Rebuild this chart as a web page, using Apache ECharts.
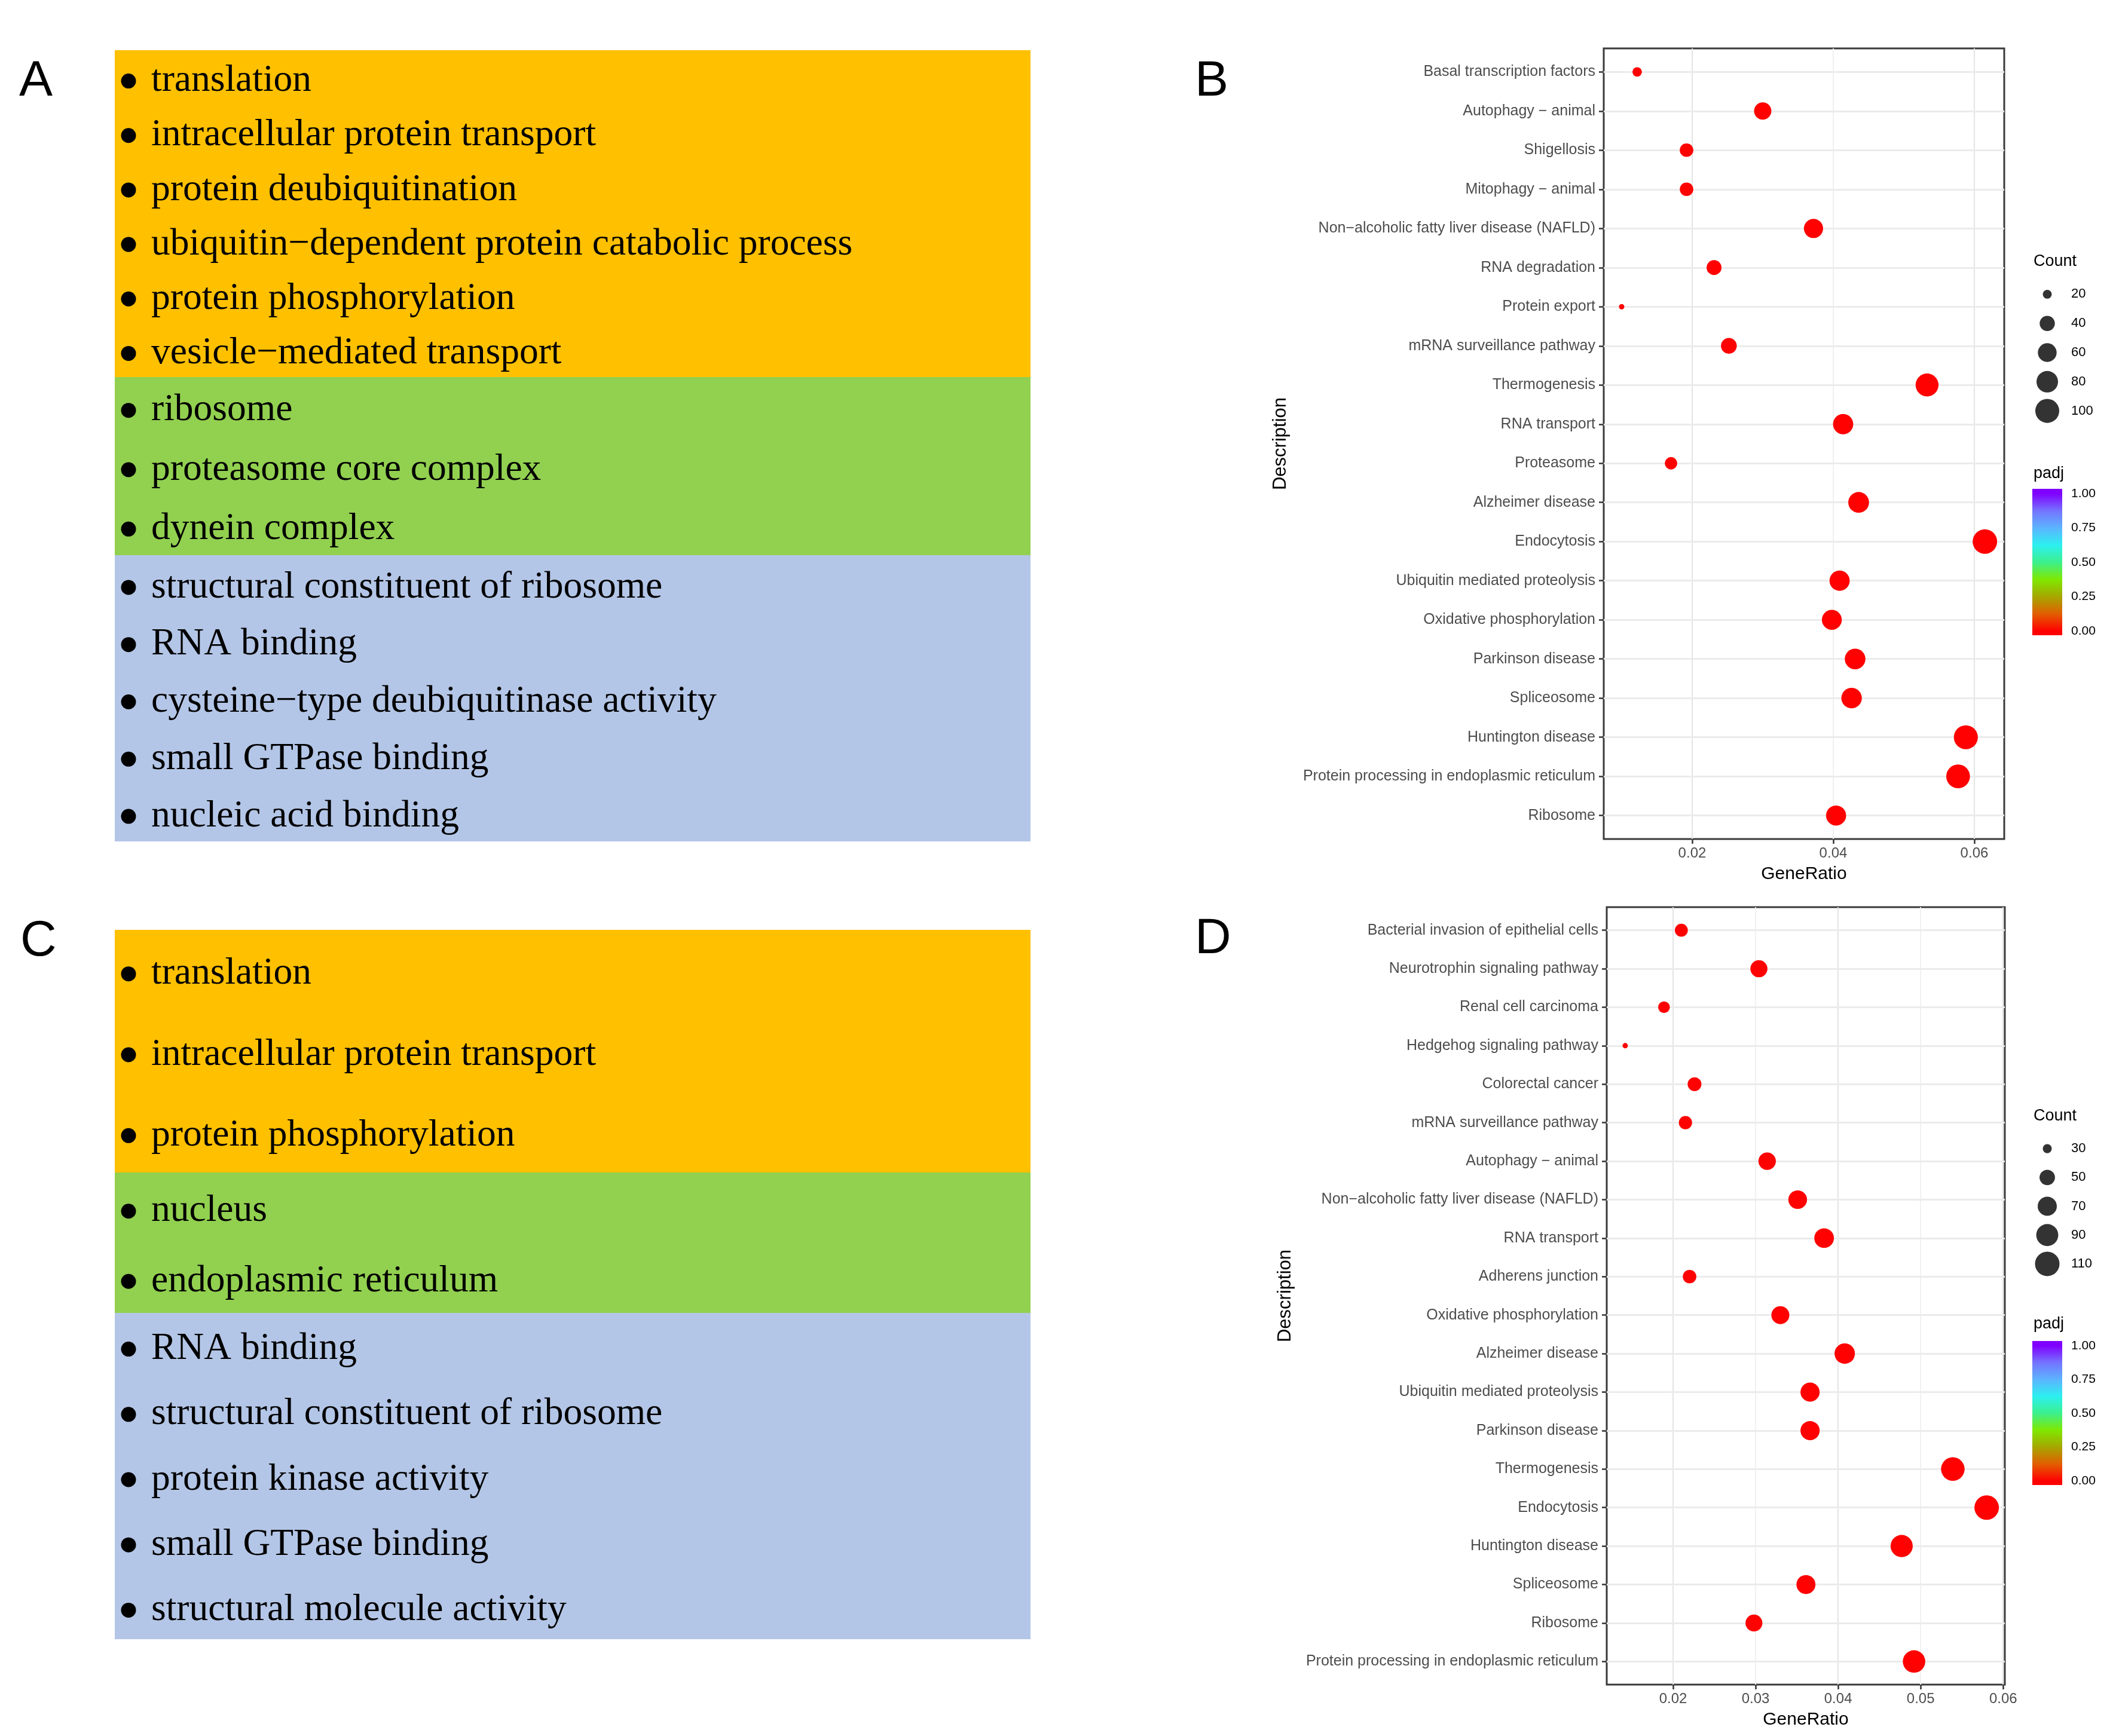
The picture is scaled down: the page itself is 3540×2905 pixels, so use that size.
<!DOCTYPE html>
<html><head><meta charset="utf-8">
<script src="https://cdn.jsdelivr.net/npm/echarts@6/dist/echarts.min.js"></script>
<style>html,body{margin:0;padding:0;background:#fff}#c{width:3540px;height:2905px}</style>
</head><body><div id="c"></div>
<script>
// ---------- data ----------
const goA_BP = ['translation','intracellular protein transport','protein deubiquitination','ubiquitin\u2212dependent protein catabolic process','protein phosphorylation','vesicle\u2212mediated transport'];
const goA_CC = ['ribosome','proteasome core complex','dynein complex'];
const goA_MF = ['structural constituent of ribosome','RNA binding','cysteine\u2212type deubiquitinase activity','small GTPase binding','nucleic acid binding'];
const goC_BP = ['translation','intracellular protein transport','protein phosphorylation'];
const goC_CC = ['nucleus','endoplasmic reticulum'];
const goC_MF = ['RNA binding','structural constituent of ribosome','protein kinase activity','small GTPase binding','structural molecule activity'];

const pathwaysB = ['Basal transcription factors','Autophagy \u2212 animal','Shigellosis','Mitophagy \u2212 animal','Non\u2212alcoholic fatty liver disease (NAFLD)','RNA degradation','Protein export','mRNA surveillance pathway','Thermogenesis','RNA transport','Proteasome','Alzheimer disease','Endocytosis','Ubiquitin mediated proteolysis','Oxidative phosphorylation','Parkinson disease','Spliceosome','Huntington disease','Protein processing in endoplasmic reticulum','Ribosome'];
const ratioB = [0.0122,0.0300,0.0192,0.0192,0.0372,0.0231,0.0100,0.0252,0.0533,0.0414,0.0170,0.0436,0.0615,0.0409,0.0398,0.0431,0.0426,0.0588,0.0577,0.0404];
const countB = [21,51,33,33,63,39,17,43,91,70,29,74,105,70,68,73,72,100,98,69];
const padjB = [0.001,0.001,0.001,0.001,0.001,0.001,0.001,0.001,0.001,0.001,0.001,0.001,0.001,0.001,0.001,0.001,0.001,0.001,0.001,0.001];

const pathwaysD = ['Bacterial invasion of epithelial cells','Neurotrophin signaling pathway','Renal cell carcinoma','Hedgehog signaling pathway','Colorectal cancer','mRNA surveillance pathway','Autophagy \u2212 animal','Non\u2212alcoholic fatty liver disease (NAFLD)','RNA transport','Adherens junction','Oxidative phosphorylation','Alzheimer disease','Ubiquitin mediated proteolysis','Parkinson disease','Thermogenesis','Endocytosis','Huntington disease','Spliceosome','Ribosome','Protein processing in endoplasmic reticulum'];
const ratioD = [0.0210,0.0304,0.0189,0.0142,0.0226,0.0215,0.0314,0.0351,0.0383,0.0220,0.0330,0.0408,0.0366,0.0366,0.0539,0.0580,0.0477,0.0361,0.0298,0.0492];
const countD = [40,58,36,27,43,41,60,67,73,42,63,78,70,70,102,110,91,69,57,93];
const padjD = [0.001,0.001,0.001,0.001,0.001,0.001,0.001,0.001,0.001,0.001,0.001,0.001,0.001,0.001,0.001,0.001,0.001,0.001,0.001,0.001];

const countBreaksB = [20,40,60,80,100];
const countBreaksD = [30,50,70,90,110];
const padjTicks = [0,0.25,0.5,0.75,1];
const xTicksB = [0.02,0.04,0.06];
const xTicksD = [0.02,0.03,0.04,0.05,0.06];

// ---------- styles ----------
const SANS = '"Liberation Sans", Arial, sans-serif';
const SERIF = '"Liberation Serif", "Times New Roman", serif';
const padjColors = ['#FF0000','#E25E00','#A6A600','#7FE800','#3CF08C','#2CF0F0','#5CB4FF','#7474FF','#8000FF'];
const CB_MIN = -0.03, CB_MAX = 1.035;

function makeSizer(arr){
  const mn = Math.min(...arr), mx = Math.max(...arr);
  return c => 9 + 32*Math.sqrt(Math.max(0, c - mn)/(mx - mn));
}
const sizeB = makeSizer(countB), sizeD = makeSizer(countD);

const chart = echarts.init(document.getElementById('c'), null, {renderer:'canvas'});

function plotAxes(gridIndex, min, max, ticks, cats, nameGap){
  const idx = cats.map((_, i) => i);
  const x = {
    type:'value', gridIndex, min, max, splitNumber: ticks.length > 3 ? 10 : 5,
    axisLine:{show:false, onZero:false},
    axisTick:{show:true, customValues: ticks, length:8, lineStyle:{color:'#333', width:2.5}},
    axisLabel:{customValues: ticks, formatter: v => Number(v).toFixed(2), fontSize:24, color:'#4d4d4d', fontFamily:SANS, margin:12},
    splitLine:{show:true, lineStyle:{color:['#e4e4e4','#f1f1f1'], width:2}},
    name:'GeneRatio', nameLocation:'middle', nameGap:44,
    nameTextStyle:{fontSize:30, color:'#000', fontFamily:SANS}
  };
  const y = {
    type:'value', gridIndex, min:-0.6, max:cats.length - 0.4, inverse:true,
    axisLine:{show:false, onZero:false},
    axisTick:{show:true, customValues: idx, length:8, lineStyle:{color:'#333', width:2.5}},
    axisLabel:{customValues: idx, formatter: v => cats[Math.round(v)], fontSize:25, color:'#4d4d4d', fontFamily:SANS, margin:14},
    splitLine:{show:false},
    name:'Description', nameLocation:'middle', nameGap, nameRotate:90,
    nameTextStyle:{fontSize:31, color:'#000', fontFamily:SANS}
  };
  return [x, y];
}

const [xB, yB] = plotAxes(0, 0.00746, 0.06424, xTicksB, pathwaysB, 525);
const [xD, yD] = plotAxes(1, 0.01196, 0.0602, xTicksD, pathwaysD, 522);

function legendAxes(gridIndex, breaks){
  return [
    {type:'value', gridIndex, min:0, max:1, show:false},
    {type:'category', gridIndex, data: breaks.map(String), inverse:true, position:'right',
     axisLine:{show:false}, axisTick:{show:false}, splitLine:{show:false},
     axisLabel:{fontSize:22, color:'#000', fontFamily:SANS, margin:15}}
  ];
}
function colorbarAxes(gridIndex){
  return [
    {type:'value', gridIndex, min:0, max:1, show:false},
    {type:'value', gridIndex, min:CB_MIN, max:CB_MAX, position:'right',
     axisLine:{show:false, onZero:false}, splitLine:{show:false},
     axisTick:{show:true, inside:true, customValues: padjTicks, length:9, lineStyle:{color:'#fff', width:2}},
     axisLabel:{customValues: padjTicks, formatter: v => Number(v).toFixed(2), fontSize:21, color:'#000', fontFamily:SANS, margin:15}},
    {type:'value', gridIndex, min:CB_MIN, max:CB_MAX, position:'left',
     axisLine:{show:false, onZero:false}, splitLine:{show:false},
     axisTick:{show:true, inside:true, customValues: padjTicks, length:9, lineStyle:{color:'#fff', width:2}},
     axisLabel:{show:false}}
  ];
}
const [lxB, lyB] = legendAxes(2, countBreaksB);
const [cxB, cyB, cyB2] = colorbarAxes(3);
const [lxD, lyD] = legendAxes(4, countBreaksD);
const [cxD, cyD, cyD2] = colorbarAxes(5);

const gradStops = padjColors.map((c, i) => {
  const v = i/(padjColors.length - 1);
  return {offset:(CB_MAX - v)/(CB_MAX - CB_MIN), color:c};
}).reverse();
gradStops.unshift({offset:0, color:padjColors[padjColors.length-1]});
gradStops.push({offset:1, color:padjColors[0]});

function dotSeries(xi, yi, cats, ratio, padj, count, sizer){
  return {
    type:'scatter', xAxisIndex:xi, yAxisIndex:yi, z:3,
    data: cats.map((_, i) => [ratio[i], i, padj[i], count[i]]),
    symbol:'circle', symbolSize: v => sizer(v[3]),
    itemStyle:{opacity:1},
    markLine:{silent:true, symbol:'none', z:1, label:{show:false},
      lineStyle:{color:'#ebebeb', width:3, type:'solid'},
      data: cats.map((_, i) => ({yAxis:i}))}
  };
}
function legendSeries(xi, yi, breaks, sizer){
  return {type:'scatter', xAxisIndex:xi, yAxisIndex:yi, silent:true,
    data: breaks.map((c, i) => [0.5, i, c]), symbol:'circle',
    symbolSize: v => sizer(v[2]), itemStyle:{color:'#000'}};
}
function colorbarSeries(xi, yi){
  return {type:'line', xAxisIndex:xi, yAxisIndex:yi, silent:true, symbol:'none',
    data:[[0.5, 0.5]], lineStyle:{opacity:0},
    markArea:{silent:true, itemStyle:{color: new echarts.graphic.LinearGradient(0,0,0,1, gradStops)},
      data:[[{coord:[0, CB_MIN]},{coord:[1, CB_MAX]}]]}};
}

// ---------- GO panels (graphic) ----------
const graphics = [];
function panel(x, w, sections){
  sections.forEach(s => {
    graphics.push({type:'rect', shape:{x, y:s.top, width:w, height:s.bottom - s.top}, style:{fill:s.color}, z:0});
    const step = (s.bottom - s.top)/s.items.length;
    s.items.forEach((t, i) => {
      const cy = s.top + (i + 0.5)*step + 6;
      graphics.push({type:'circle', shape:{cx:x + 23, cy, r:12.5}, style:{fill:'#000'}, z:1});
      graphics.push({type:'text', x:x + 61, y:cy, style:{text:t, font:'63.5px ' + SERIF, fill:'#000', verticalAlign:'middle'}, z:1});
    });
  });
}
panel(192, 1532, [
  {top:84, bottom:631, color:'#FFC000', items:goA_BP},
  {top:631, bottom:929, color:'#92D050', items:goA_CC},
  {top:929, bottom:1408, color:'#B4C6E7', items:goA_MF}
]);
panel(192, 1532, [
  {top:1556, bottom:1962, color:'#FFC000', items:goC_BP},
  {top:1962, bottom:2197, color:'#92D050', items:goC_CC},
  {top:2197, bottom:2743, color:'#B4C6E7', items:goC_MF}
]);
[['A',32,137],['B',1999,137],['C',34,1576],['D',1999,1572]].forEach(([t,x,y]) => {
  graphics.push({type:'text', x, y, style:{text:t, font:'84px ' + SANS, fill:'#000', verticalAlign:'middle'}});
});
[['Count',3402,438],['padj',3402,793],['Count',3402,1868],['padj',3402,2216]].forEach(([t,x,y]) => {
  graphics.push({type:'text', x, y, style:{text:t, font:'27px ' + SANS, fill:'#000', verticalAlign:'middle'}});
});

const option = {
  backgroundColor:'#fff',
  animation:false,
  grid:[
    {left:2683, top:81, width:670, height:1323, show:true, borderColor:'#3a3a3a', borderWidth:3, backgroundColor:'#fff'},
    {left:2688, top:1518, width:666, height:1301, show:true, borderColor:'#3a3a3a', borderWidth:3, backgroundColor:'#fff'},
    {left:3400, top:468, width:50, height:244},
    {left:3400, top:818, width:50, height:245},
    {left:3400, top:1898, width:50, height:241},
    {left:3400, top:2244, width:50, height:241}
  ],
  xAxis:[xB, xD, lxB, cxB, lxD, cxD],
  yAxis:[yB, yD, lyB, cyB, cyB2, lyD, cyD, cyD2],
  visualMap:[{type:'continuous', show:false, min:0, max:1, dimension:2, seriesIndex:[0,1], inRange:{color:padjColors}}],
  series:[
    dotSeries(0, 0, pathwaysB, ratioB, padjB, countB, sizeB),
    dotSeries(1, 1, pathwaysD, ratioD, padjD, countD, sizeD),
    legendSeries(2, 2, countBreaksB, sizeB),
    colorbarSeries(3, 3),
    legendSeries(4, 5, countBreaksD, sizeD),
    colorbarSeries(5, 6)
  ],
  graphic: graphics
};
chart.setOption(option);
</script></body></html>
